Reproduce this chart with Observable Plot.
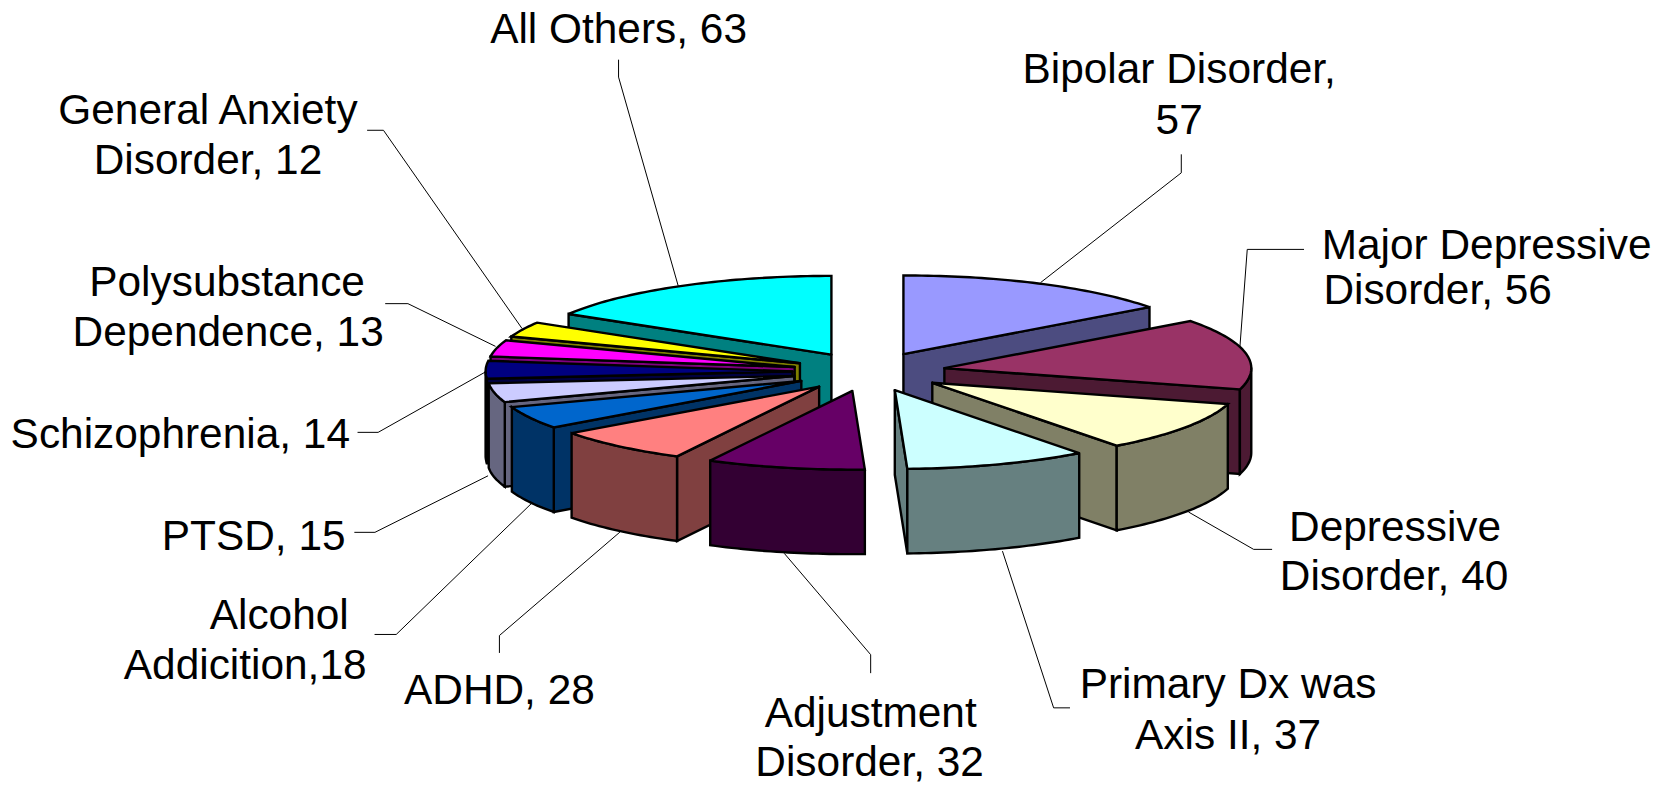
<!DOCTYPE html>
<html>
<head>
<meta charset="utf-8">
<script src="https://cdn.jsdelivr.net/npm/d3@7"></script>
<script src="https://cdn.jsdelivr.net/npm/@observablehq/plot@0.6"></script>
<style>html,body{margin:0;padding:0;background:#fff}svg{display:block}</style>
</head>
<body>
<div id="chart"></div>
<script>
// Data, clockwise from 12 o'clock
const categories = ["Bipolar Disorder","Major Depressive Disorder","Depressive Disorder","Primary Dx was Axis II","Adjustment Disorder","ADHD","Alcohol Addicition","PTSD","Schizophrenia","Polysubstance Dependence","General Anxiety Disorder","All Others"];
const values = [57,56,40,37,32,28,18,15,14,13,12,63];
const topColors = ["#9999FF","#993366","#FFFFCC","#CCFFFF","#660066","#FF8080","#0066CC","#CCCCFF","#000080","#FF00FF","#FFFF00","#00FFFF"];
const sideColors = ["#4C4C80","#4C1A33","#808066","#668080","#330033","#804040","#003366","#666680","#000040","#800080","#808000","#008080"];

// Label text lines: [text, x, y] in the 1568x738 design space
const labelLines = [
  ["All Others, 63",581,27],
  ["Bipolar Disorder,",1108,65],["57",1108,113],
  ["Major Depressive",1397,230],["Disorder, 56",1351,273],
  ["Depressive",1311,495],["Disorder, 40",1310,541],
  ["Primary Dx was",1154,643],["Axis II, 37",1154,691],
  ["Adjustment",818,670],["Disorder, 32",817,716],
  ["ADHD, 28",469,649],
  ["Alcohol",262,578],["Addicition,18",230,625],
  ["PTSD, 15",238,504],
  ["Schizophrenia, 14",169,408],
  ["Polysubstance",213,265],["Dependence, 13",214,312],
  ["General Anxiety",195,103],["Disorder, 12",195,150]
];
const leaderPaths = [
  [[581,56],[581,72],[637,268]],
  [[1110,145],[1110,162],[978,265]],
  [[1225,234],[1172,234],[1165,327]],
  [[1195,516],[1178,516],[1117,481]],
  [[1005,665],[990,665],[942,518]],
  [[818,632],[818,615],[737,520]],
  [[469,613],[469,597],[582,500]],
  [[352,596],[372,596],[500,472]],
  [[333,500],[352,500],[458,447]],
  [[336,406],[355,406],[458,348]],
  [[362,285],[383,285],[465,325]],
  [[345,122],[360,122],[490,308]]
];

// Pie geometry
const cx = 816.5, cy = 349, rx = 288.5, ry = 74, depth = 79.5, explode = 72;
const total = d3.sum(values);
const TAU = 2 * Math.PI;
let acc = 0;
const slices = values.map((v, i) => {
  const a0 = acc / total * TAU; acc += v;
  const a1 = acc / total * TAU;
  const mid = (a0 + a1) / 2;
  return {i, a0, a1, mid,
    ax: cx + explode * Math.sin(mid),
    ay: cy - explode * Math.cos(mid) * ry / rx};
});
const rim = (s, a, drop = 0) => [s.ax + rx * Math.sin(a), s.ay - ry * Math.cos(a) + drop];
const arc = (s, from, to, drop = 0) => {
  const n = Math.max(2, Math.ceil((to - from) / 0.02));
  return d3.range(n + 1).map(k => rim(s, from + (to - from) * k / n, drop));
};

const polys = [];
let pid = 0;
const addPoly = (pts, fill) => {
  const id = pid++;
  [...pts, pts[0]].forEach(([x, y]) => polys.push({id, x, y, fill}));
};
// Back slices first, front slices last
[...slices].sort((p, q) => Math.cos(q.mid) - Math.cos(p.mid)).forEach(s => {
  const side = sideColors[s.i], top = topColors[s.i];
  const radial = a => {
    const e = rim(s, a);
    addPoly([[s.ax, s.ay], e, [e[0], e[1] + depth], [s.ax, s.ay + depth]], side);
  };
  if (Math.sin(s.a0) < -1e-6) radial(s.a0);
  if (Math.sin(s.a1) > 1e-6) radial(s.a1);
  const f0 = Math.max(s.a0, Math.PI / 2), f1 = Math.min(s.a1, 3 * Math.PI / 2);
  if (f1 > f0) addPoly([...arc(s, f0, f1), ...arc(s, f0, f1, depth).reverse()], side);
  addPoly([[s.ax, s.ay], ...arc(s, s.a0, s.a1)], top);
});

const leaders = leaderPaths.flatMap((p, id) => p.map(([x, y]) => ({id, x, y})));
const labels = labelLines.map(([text, x, y]) => ({text, x, y}));

const chart = Plot.plot({
  width: 1668, height: 785,
  margin: 0,
  x: {domain: [0, 1568], range: [0, 1668], axis: null},
  y: {domain: [0, 738], range: [0, 785], axis: null},
  color: {type: "identity"},
  style: {background: "#fff"},
  marks: [
    Plot.line(leaders, {x: "x", y: "y", z: "id", stroke: "#000", strokeWidth: 1, curve: "linear"}),
    Plot.line(polys, {x: "x", y: "y", z: "id", fill: "fill", stroke: "#000", strokeWidth: 2.4, curve: "linear", strokeLinejoin: "miter", strokeMiterlimit: 3}),
    Plot.text(labels, {x: "x", y: "y", text: "text", fontSize: 42.4, fontFamily: "Liberation Sans", fill: "#000", textAnchor: "middle"})
  ]
});
document.getElementById("chart").append(chart);
</script>
</body>
</html>
